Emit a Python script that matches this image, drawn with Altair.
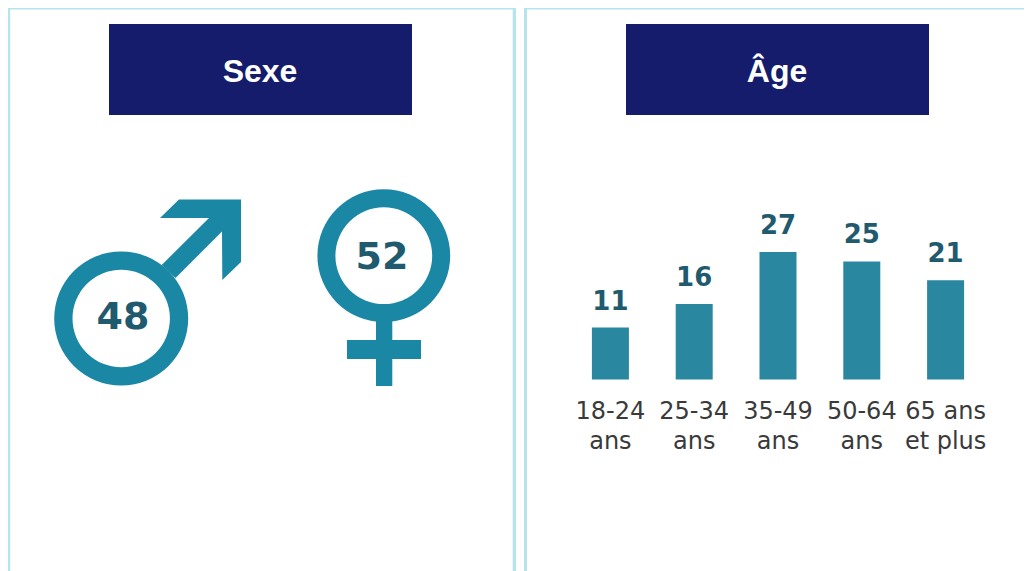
import altair as alt
import pandas as pd

# Data
AGE_LABELS = ["18-24\nans", "25-34\nans", "35-49\nans", "50-64\nans", "65 ans\net plus"]
AGE_VALUES = [11, 16, 27, 25, 21]
SEX_VALUES = [48, 52]
HEADERS = ["Sexe", "Âge"]

# Decoration geometry, in chart pixels
W, H = 1016, 563
TEAL = "#1A87A5"
BAR = "#2A87A0"
DARK = "#1F5A6E"
NAVY = "#141C6B"
EDGE = "#B7E3EC"
GREY = "#3A3A3A"

PX = alt.Scale(domain=[0, W], range=[0, W], nice=False, zero=False)
PY = alt.Scale(domain=[0, H], range=[0, H], nice=False, zero=False)
def X(f="x"): return alt.X(f"{f}:Q", scale=PX, axis=None)
def Y(f="y"): return alt.Y(f"{f}:Q", scale=PY, axis=None)

def rects(rows, color):
    df = pd.DataFrame(rows, columns=["x", "x2", "y", "y2"])
    return alt.Chart(df).mark_rect(color=color, strokeWidth=0).encode(
        x=X(), x2="x2:Q", y=Y(), y2="y2:Q")

borders = rects([
    (-0.5, 2.2, 0, H), (504.7, 508, 0, H), (516, 519, 0, H),
    (-0.5, 508, 0, 1.5), (516, W, 0, 1.5),
], EDGE)

header_rects = rects([(101, 404, 16, 107), (618, 921, 16, 107)], NAVY)
header_text = alt.Chart(pd.DataFrame({"x": [252, 769], "y": [63.5, 63.5], "t": HEADERS})).mark_text(
    font="Liberation Sans", fontWeight="bold", fontSize=32, color="white", align="center", baseline="middle"
).encode(x=X(), y=Y(), text="t:N")

def ring(cx, cy, ro, ri):
    return alt.Chart(pd.DataFrame({"x": [cx], "y": [cy]})).mark_arc(
        innerRadius=ri, outerRadius=ro, theta=0, theta2=6.2832, color=TEAL
    ).encode(x=X(), y=Y())

male_ring = ring(113.2, 310.5, 67, 48.7)
female_ring = ring(375.8, 247.7, 66.4, 48.4)

ARROW = [(153.7, 257), (201, 210), (152, 210), (171, 191.5), (233, 191.5), (233, 254),
         (214.3, 272), (214, 223.5), (167.5, 270)]
arrow_path = "M" + "L".join(f"{a},{b}" for a, b in ARROW) + "Z"
arrow = alt.Chart(pd.DataFrame({"x": [0], "y": [0]})).mark_point(
    shape=arrow_path, size=4, filled=True, color=TEAL, opacity=1, strokeWidth=0
).encode(x=X(), y=Y())

female_cross = rects([(368, 384.3, 305, 378), (339, 413, 332, 351)], TEAL)

sex_text = alt.Chart(pd.DataFrame({"x": [115, 374], "y": [309.7, 250], "v": SEX_VALUES})).mark_text(
    font="DejaVu Sans", fontWeight="bold", fontSize=38, color=DARK, align="center", baseline="middle"
).encode(x=X(), y=Y(), text="v:Q")

# Bar chart with its own scales
age = pd.DataFrame({"cat": AGE_LABELS, "v": AGE_VALUES})
BX = alt.X("cat:N", sort=None, axis=None,
           scale=alt.Scale(domain=AGE_LABELS, range=[560.5, 979.5], paddingInner=0, paddingOuter=0))
BY = alt.Y("v:Q", axis=None, scale=alt.Scale(domain=[0, 27], range=[371.5, 244], nice=False, zero=True))

bars = alt.Chart(age).mark_bar(size=37, color=BAR).encode(x=BX, y=BY)
bar_vals = alt.Chart(age).mark_text(
    font="DejaVu Sans", fontWeight="bold", fontSize=26, color=DARK, align="center", baseline="middle", dy=-26
).encode(x=BX, y=BY, text="v:Q")
cat_labels = alt.Chart(age).mark_text(
    font="DejaVu Sans", fontSize=24, color=GREY, align="center", baseline="middle",
    lineBreak="\n", lineHeight=30, dy=32
).encode(x=BX, y=alt.Y("zero:Q", axis=None, scale=alt.Scale(domain=[0, 27], range=[371.5, 244], nice=False)),
         text="cat:N").transform_calculate(zero="0")

chart = alt.layer(
    borders, header_rects, header_text, male_ring, female_ring, arrow, female_cross, sex_text,
    bars, bar_vals, cat_labels
).resolve_scale(x="independent", y="independent").properties(
    width=W, height=H, padding=0, autosize=alt.AutoSizeParams(type="none"), background="white"
).configure_view(stroke=None)

chart.save("out.html", embed_options={"renderer": "svg", "actions": False})
